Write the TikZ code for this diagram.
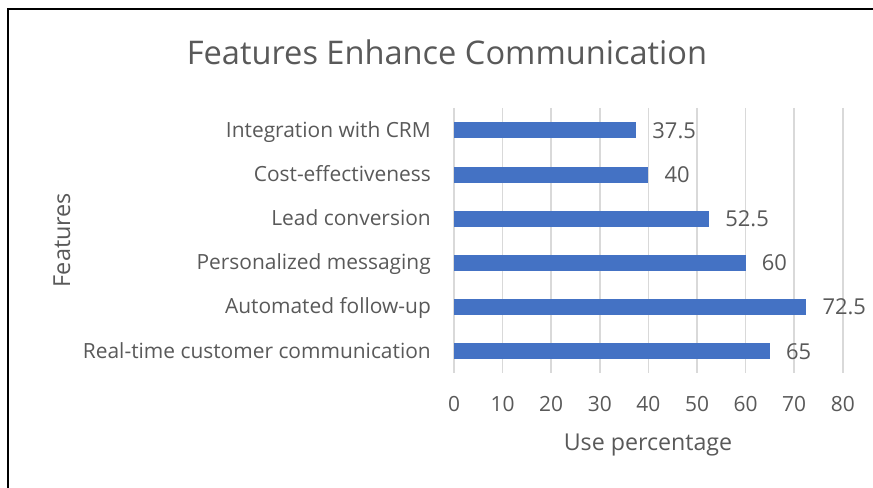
\documentclass[tikz,border=0pt]{standalone}
\usepackage{fontspec}
\setmainfont{Open Sans}
\definecolor{txt}{HTML}{595959}
\definecolor{barblue}{HTML}{4472C4}
\definecolor{grid}{HTML}{D9D9D9}
\begin{document}
\begin{tikzpicture}[x=1bp,y=-1bp,
  catlabel/.style={anchor=base east,inner sep=0pt,text=txt,font=\fontsize{21}{24}\selectfont},
  vallabel/.style={anchor=base west,inner sep=0pt,text=txt,font=\fontsize{22}{26}\selectfont},
  ticklabel/.style={anchor=base,inner sep=0pt,text=txt,font=\fontsize{21}{24}\selectfont},
  gridline/.style={draw=grid,line width=1.5bp},
  barstyle/.style={fill=barblue,draw=none}]
\useasboundingbox (0,0) rectangle (873,488);
\fill[white] (0,0) rectangle (873,488);
% frame
\coordinate (fa) at (8,488);
\coordinate (fb) at (8,9);
\coordinate (fc) at (873,9);
\draw[line width=2bp,black] (fa) -- (fb) -- (fc);
% title
\node[anchor=base,text=txt,inner sep=0pt,font=\fontsize{32.7}{38}\selectfont] (title) at (447,65) {Features Enhance Communication};
% gridlines and ticks
\foreach \v in {0,10,...,80}{
  \coordinate (gt\v) at ({454+4.86*\v},108);
  \coordinate (gb\v) at ({454+4.86*\v},373);
  \draw[gridline] (gt\v) -- (gb\v);
  \node[ticklabel] (tick\v) at ({454+4.86*\v},411.5) {\v};
}
% bars
\foreach \i/\v/\name in {0/37.5/Integration with CRM,1/40/Cost-effectiveness,2/52.5/Lead conversion\ ,3/60/Personalized messaging,4/72.5/Automated follow-up,5/65/Real-time customer communication}{
  \pgfmathsetmacro{\yc}{130.5+44.1*\i}
  \pgfmathsetmacro{\xe}{454+4.86*\v}
  \fill[barstyle] (454,\yc-8) rectangle (\xe,\yc+8);
  \coordinate (bar\i) at (\xe,\yc);
  \node[vallabel] (val\i) at ([xshift=16bp,yshift=-8bp]bar\i) {\v};
  \node[catlabel] (cat\i) at (431,\yc+7) {\name};
}
% axis titles
\node[anchor=base,text=txt,inner sep=0pt,font=\fontsize{23.3}{27}\selectfont] (xtitle) at (648,450.5) {Use percentage};
\node[text=txt,inner sep=0pt,rotate=90,font=\fontsize{23.5}{27}\selectfont] (ytitle) at (62,240) {Features};
\end{tikzpicture}
\end{document}
